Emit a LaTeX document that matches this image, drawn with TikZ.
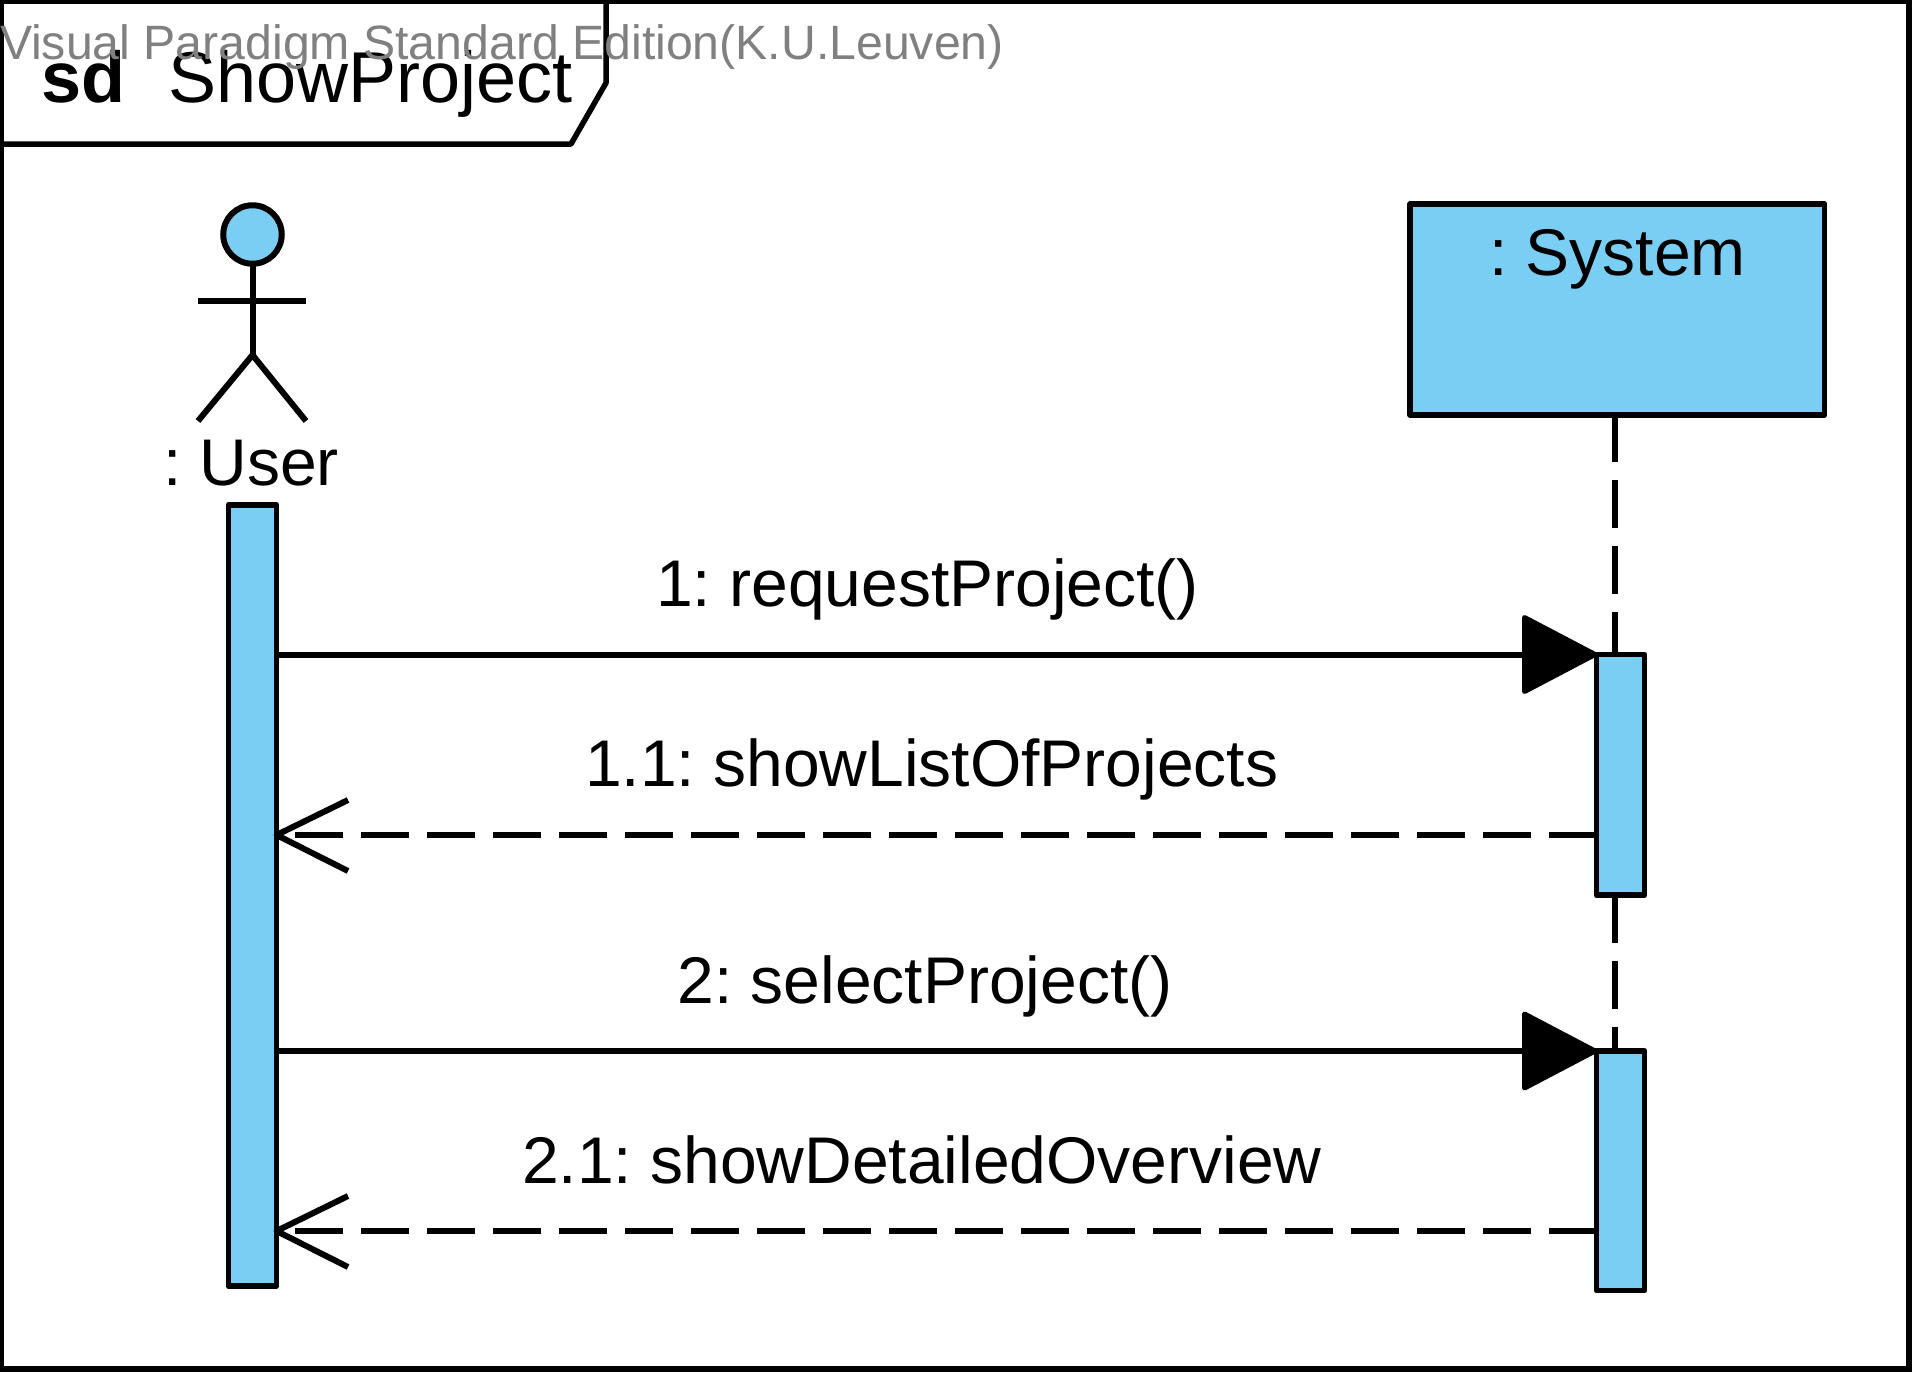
\documentclass[tikz,border=0pt]{standalone}
\usepackage{fontspec}
\setmainfont{Liberation Sans}
\frenchspacing
\definecolor{umlblue}{RGB}{122,206,244}
\tikzset{
  x=1pt,y=-1pt,
  every node/.style={inner sep=0pt,outer sep=0pt},
  thick line/.style={line width=6pt,line join=round,draw=black},
  bar/.style={thick line,fill=umlblue,rectangle,line width=5.8pt},
  txt/.style={anchor=base west,font=\fontsize{66}{66}\selectfont,text=black},
  msgsolid/.style={thick line},
  msgdash/.style={thick line,dash pattern=on 48pt off 18pt},
  lifeline/.style={thick line,dash pattern=on 48pt off 18pt},
  head/.style={thick line,line width=5pt,fill=black},
  openhead/.style={thick line,line cap=butt,line join=round}
}
\begin{document}
\begin{tikzpicture}
\useasboundingbox (0,0) rectangle (1914,1374);
\fill[white] (0,0) rectangle (1914,1374);
% frame
\node[draw=black,line width=5.5pt,rectangle,minimum width=1907.5pt,minimum height=1367.5pt,anchor=north west] (frame) at (1.5,1.5) {};
\coordinate (tabA) at (606,1.5);
\coordinate (tabB) at (606,83);
\coordinate (tabC) at (571,144);
\coordinate (tabD) at (1.5,144);
\draw[thick line,line width=5.5pt] (tabA) -- (tabB) -- (tabC) -- (tabD);
\node[txt,font=\fontsize{72}{72}\selectfont\bfseries] (sd) at (41,102) {sd};
\node[txt,font=\fontsize{72}{72}\selectfont] (title) at (168,102) {ShowProject};
\node[txt,font=\fontsize{48.2}{48.2}\selectfont,text=black!50] (wm) at (0,59.5) {Visual Paradigm Standard Edition(K.U.Leuven)};
% actor
\node[draw=black,line width=6pt,fill=umlblue,circle,minimum size=58.5pt] (head) at (252.5,234.5) {};
\coordinate (hip) at (252.5,355);
\coordinate (armL) at (198,300.5);
\coordinate (armR) at (306,300.5);
\coordinate (legL) at (198,421);
\coordinate (legR) at (306,421);
\draw[thick line] (head.south) -- (hip);
\draw[thick line,line cap=butt] (armL) -- (armR);
\draw[thick line,line join=miter] (legL) -- (hip) -- (legR);
\node[txt] (user) at (163,485) {: User};
% activations and system
\node[bar,minimum width=48pt,minimum height=781pt,anchor=north west] (ua) at (228.5,505) {};
\node[bar,minimum width=414.5pt,minimum height=211pt,anchor=north west] (sys) at (1410,204) {};
\node[txt] (systxt) at (1489,275) {: System};
\node[bar,minimum width=48pt,minimum height=240.5pt,anchor=north west] (sa1) at (1596.5,654.5) {};
\node[bar,minimum width=48pt,minimum height=239.5pt,anchor=north west] (sa2) at (1596.5,1051) {};
% lifeline
\coordinate (l0) at (1614.5,414);
\draw[lifeline] (l0) -- (l0 |- sa1.north);
\coordinate (l1) at (1614.5,894.5);
\draw[lifeline] (l1) -- (l1 |- sa2.north);
% messages
\coordinate (m2r) at (1596.5,835);
\coordinate (m4r) at (1596.5,1231);
\draw[msgsolid] (ua.east |- sa1.north west) -- (sa1.north west);
\draw[head] (1524.5,617.5) -- (1595,654.5) -- (1524.5,691.5) -- cycle;
\draw[msgdash] (m2r) -- (m2r -| ua.east);
\draw[openhead] (348,800) -- (m2r -| ua.east) -- (348,871);
\draw[msgsolid] (ua.east |- sa2.north west) -- (sa2.north west);
\draw[head] (1524.5,1014) -- (1595,1051) -- (1524.5,1088) -- cycle;
\draw[msgdash] (m4r) -- (m4r -| ua.east);
\draw[openhead] (348,1196) -- (m4r -| ua.east) -- (348,1267);
% labels
\node[txt] (l1txt) at (656,606) {1: requestProject()};
\node[txt] (l2txt) at (585,786) {1.1: showListOfProjects};
\node[txt] (l3txt) at (677.5,1003) {2: selectProject()};
\node[txt] (l4txt) at (522,1183) {2.1: showDetailedOverview};
\end{tikzpicture}
\end{document}
